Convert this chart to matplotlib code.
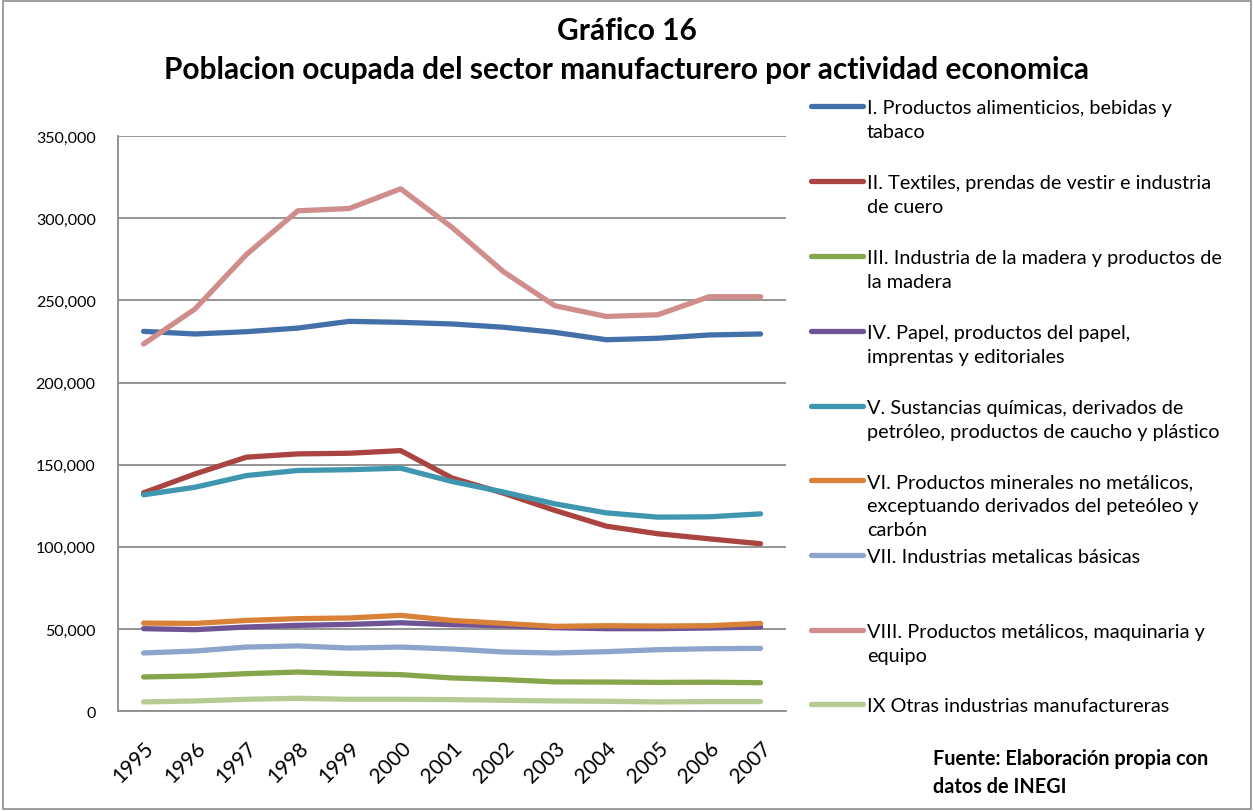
# Gráfico 16 - población ocupada del sector manufacturero
import matplotlib
matplotlib.use('Agg')
import matplotlib.pyplot as plt
from matplotlib.lines import Line2D
from matplotlib.patches import Rectangle
from matplotlib.ticker import FuncFormatter

plt.rcParams['font.family'] = ['Lato', 'DejaVu Sans']

years = ['1995', '1996', '1997', '1998', '1999', '2000', '2001',
         '2002', '2003', '2004', '2005', '2006', '2007']

alimentos = [231200, 229600, 231000, 233200, 237300, 236700, 235700,
             233700, 230600, 226100, 227000, 229000, 229600]
textiles = [132900, 144400, 154600, 156600, 157000, 158600, 141900,
            132700, 122200, 112600, 108000, 104900, 101900]
madera = [20800, 21400, 22800, 23800, 22800, 22200, 20200,
          19200, 17800, 17700, 17500, 17600, 17300]
papel = [50200, 49600, 51200, 52200, 52800, 53800, 52600,
         52000, 50800, 50200, 50200, 50600, 51200]
quimicas = [131700, 136300, 143400, 146500, 147000, 147900, 139800,
            133400, 126200, 120700, 118100, 118300, 120100]
minerales = [53600, 53400, 55200, 56300, 56700, 58300, 55200,
             53400, 51600, 52000, 51800, 52000, 53400]
metalicas = [35400, 36600, 39000, 39700, 38400, 39000, 37800,
             36000, 35400, 36200, 37400, 38000, 38200]
maquinaria = [223500, 244800, 278000, 304600, 306000, 318000, 294500,
              267500, 246800, 240300, 241300, 252300, 252300]
otras = [5600, 6200, 7200, 7800, 7200, 7200, 7000,
         6600, 6200, 6000, 5600, 5800, 5800]

series = [
    ('I. Productos alimenticios, bebidas y\ntabaco', alimentos, '#4470AA'),
    ('II. Textiles, prendas de vestir e industria\nde cuero', textiles, '#AA4440'),
    ('III. Industria de la madera y productos de\nla madera', madera, '#87A54A'),
    ('IV. Papel, productos del papel,\nimprentas y editoriales', papel, '#6E5494'),
    ('V. Sustancias químicas, derivados de\npetróleo, productos de caucho y plástico', quimicas, '#3E97AF'),
    ('VI. Productos minerales no metálicos,\nexceptuando derivados del peteóleo y\ncarbón', minerales, '#DA8138'),
    ('VII. Industrias metalicas básicas', metalicas, '#8DA5CB'),
    ('VIII. Productos metálicos, maquinaria y\nequipo', maquinaria, '#CF8D8C'),
    ('IX Otras industrias manufactureras', otras, '#B5CB93'),
]

fig = plt.figure(figsize=(12.54, 8.12), dpi=100)
ax = fig.add_axes([0.094, 0.123, 0.533, 0.708])

x = range(len(years))
for label, vals, color in series:
    ax.plot(x, vals, color=color, lw=3.8, solid_capstyle='round', solid_joinstyle='round')

ax.set_xlim(-0.5, len(years) - 0.5)
ax.set_ylim(0, 350000)
ax.set_yticks(range(0, 350001, 50000))
ax.yaxis.set_major_formatter(FuncFormatter(lambda v, p: f'{int(v):,}'))
ax.grid(axis='y', color='#8c8c8c', lw=1.3)
ax.set_axisbelow(True)
ax.set_xticks(list(x))
ax.set_xticklabels(years, rotation=45, ha='right', rotation_mode='anchor')
ax.tick_params(axis='y', labelsize=11.5, length=0, pad=16)
ax.tick_params(axis='x', labelsize=15, length=0, pad=19)
for s in ['top', 'right']:
    ax.spines[s].set_visible(False)
for s in ['left', 'bottom']:
    ax.spines[s].set_color('#8c8c8c')
    ax.spines[s].set_linewidth(1.3)

fig.text(0.5, 0.962, 'Gráfico 16', ha='center', va='center', fontsize=21.5, fontweight='bold')
fig.text(0.5, 0.914, 'Poblacion ocupada del sector manufacturero por actividad economica',
         ha='center', va='center', fontsize=21.5, fontweight='bold')

# leyenda a la derecha
legend_y = [107, 182, 257, 332, 407, 481, 556, 631, 705]
for (label, vals, color), yp in zip(series, legend_y):
    yf = 1 - yp / 812
    fig.add_artist(Line2D([811 / 1254, 863 / 1254], [yf, yf], color=color, lw=3.8,
                          solid_capstyle='round', transform=fig.transFigure))
    fig.text(867 / 1254, yf + 7 / 812, label, ha='left', va='top', fontsize=14.3,
             linespacing=1.5)

fig.text(933 / 1254, 1 - 749 / 812, 'Fuente: Elaboración propia con\ndatos de INEGI',
         ha='left', va='top', fontsize=14.3, fontweight='bold', linespacing=1.5)

fig.patches.append(Rectangle((0.002, 0.002), 0.996, 0.996, transform=fig.transFigure,
                             fill=False, edgecolor='#8c8c8c', lw=1.2))

fig.savefig('out.png', dpi=100)
